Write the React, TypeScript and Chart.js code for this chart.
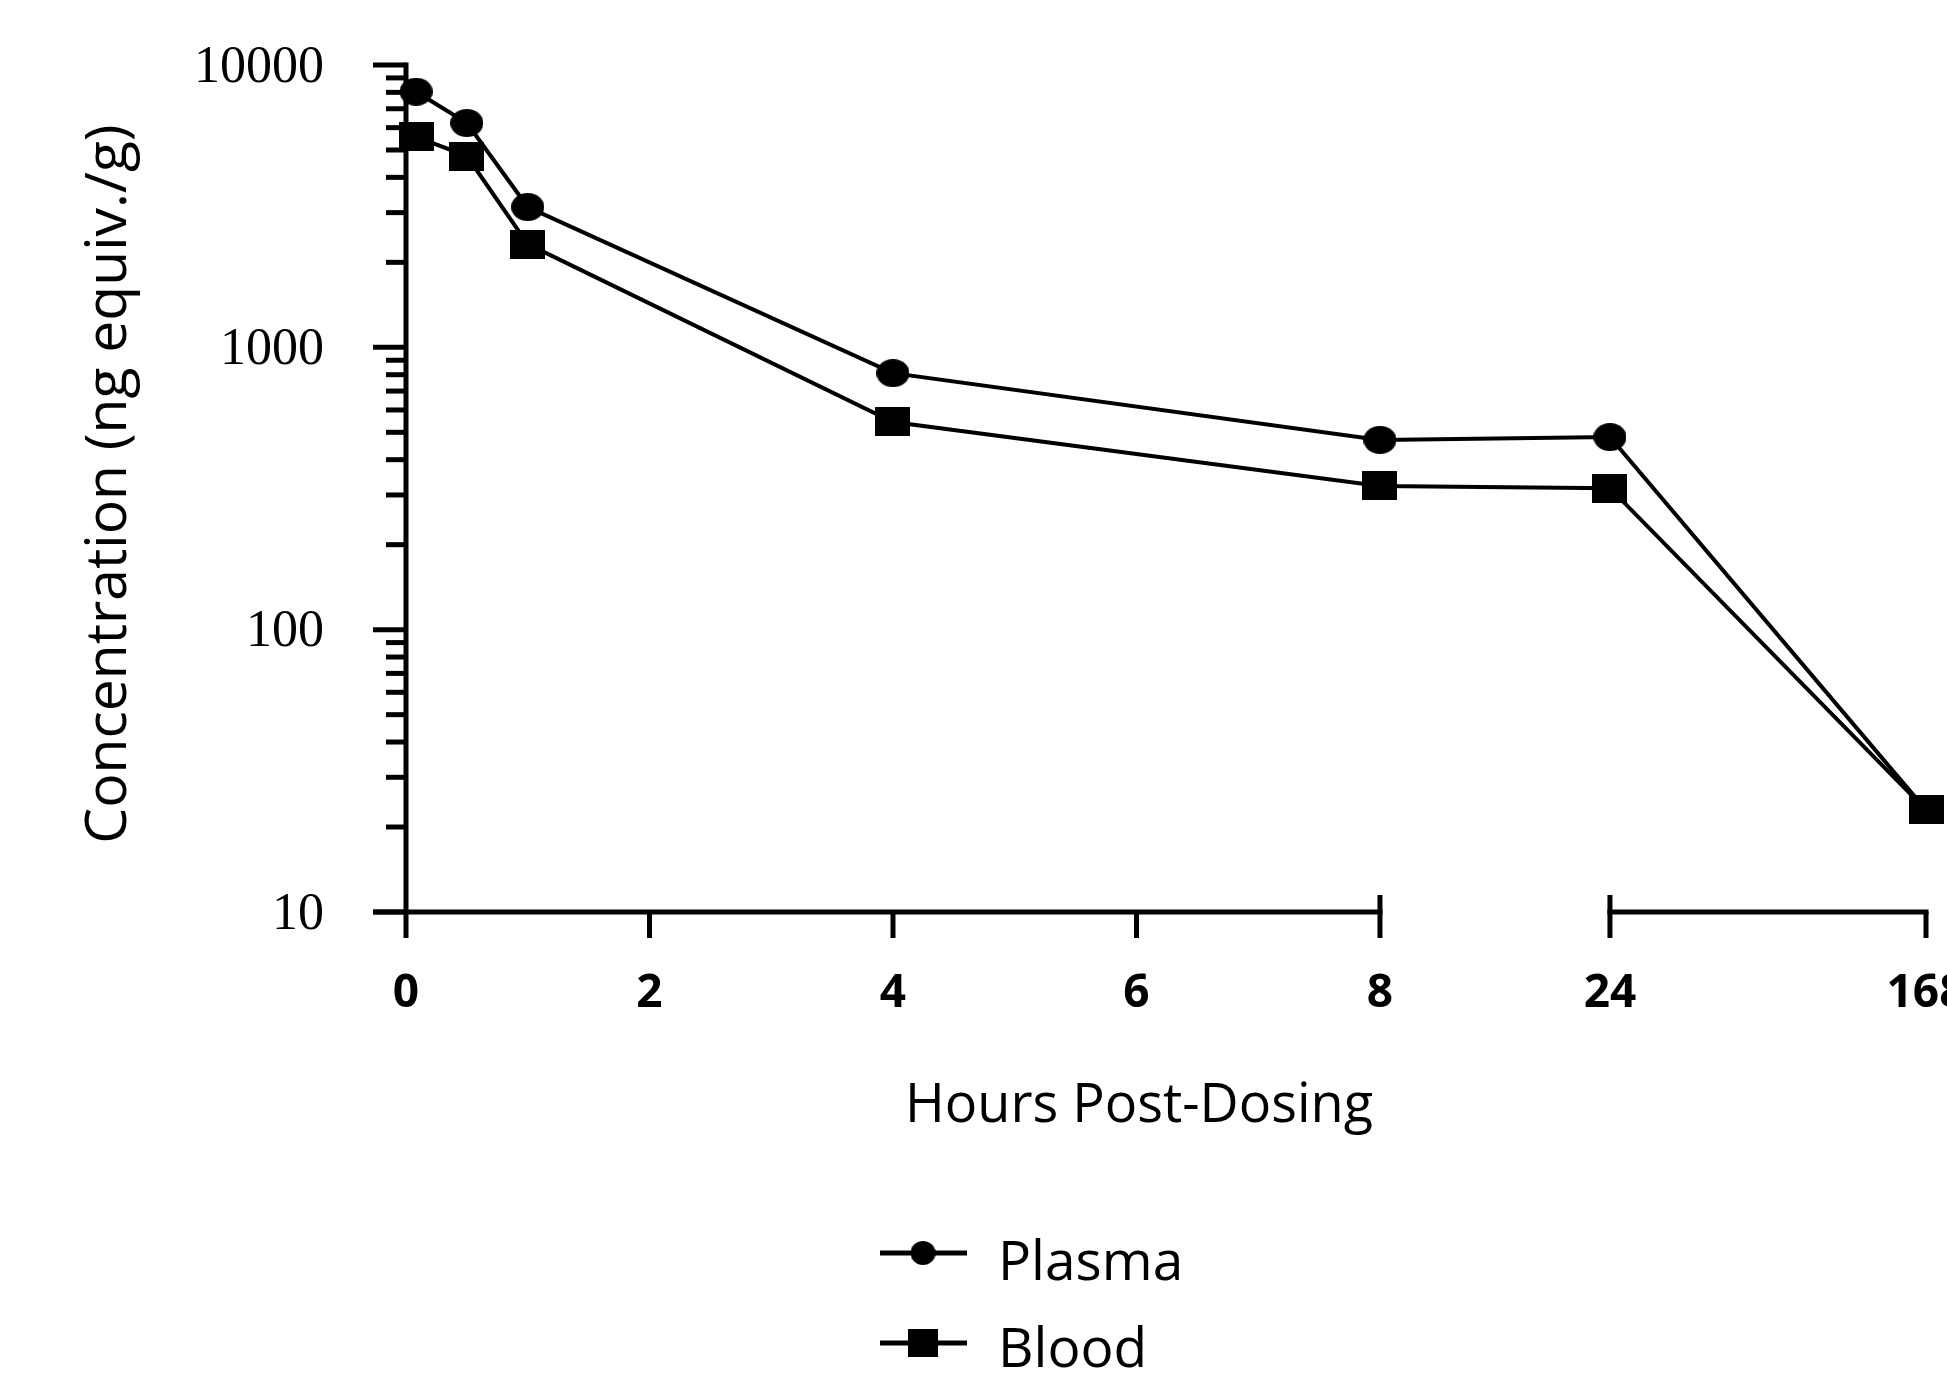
import React, { useEffect, useRef } from "react";
import { Chart, registerables } from "chart.js";

Chart.register(...registerables);

// ---- data ----
const hours = [0.083, 0.5, 1, 4, 8, 24, 168];
const plasma = [8040, 6230, 3140, 810, 470, 481, 23];
const blood = [5560, 4760, 2320, 544, 323, 317, 23];
const seriesNames = ["Plasma", "Blood"];
const xTickValues = [0, 2, 4, 6, 8, 24, 168];
const yMajorTicks = [10, 100, 1000, 10000];
const xTitle = "Hours Post-Dosing";
const yTitle = "Concentration (ng equiv./g)";

// ---- broken x axis: 0–8 h linear, then a gap, then 24–168 h compressed ----
const EARLY_END = 8;
const LATE_START = 24;
const LATE_END = 168;
const LATE_START_POS = 9.889; // axis units
const LATE_END_POS = 12.485; // axis units
function axisPos(h: number): number {
  if (h <= EARLY_END) return h;
  return LATE_START_POS + ((h - LATE_START) * (LATE_END_POS - LATE_START_POS)) / (LATE_END - LATE_START);
}

function makeMarker(shape: "ellipse" | "rect", w: number, h: number) {
  const c = document.createElement("canvas");
  c.width = w;
  c.height = h;
  const g = c.getContext("2d")!;
  g.fillStyle = "#000";
  if (shape === "ellipse") {
    g.beginPath();
    g.ellipse(w / 2, h / 2, w / 2, h / 2, 0, 0, Math.PI * 2);
    g.fill();
  } else {
    g.fillRect(0, 0, w, h);
  }
  return c;
}

export default function App() {
  const ref = useRef<HTMLCanvasElement | null>(null);

  useEffect(() => {
    if (!ref.current) return;
    const circle = makeMarker("ellipse", 33, 28);
    const square = makeMarker("rect", 35, 29);
    const legCircle = makeMarker("ellipse", 25, 24);
    const legSquare = makeMarker("rect", 30, 28);

    const axesPlugin = {
      id: "brokenAxes",
      beforeDatasetsDraw(chart: any) {
        const ctx = chart.ctx as CanvasRenderingContext2D;
        const xs = chart.scales.x;
        const ys = chart.scales.y;
        const x0 = xs.getPixelForValue(0);
        const yBottom = ys.getPixelForValue(10);
        const yTop = ys.getPixelForValue(10000);
        const MAJ = 33;
        const MIN = 20;
        const XT = 26;
        const BRK = 17;
        ctx.save();
        ctx.strokeStyle = "#000";
        ctx.fillStyle = "#000";
        ctx.lineWidth = 5;
        ctx.lineCap = "butt";

        // y axis line (extends below x axis as the 0 tick)
        ctx.beginPath();
        ctx.moveTo(x0, yTop - 2.5);
        ctx.lineTo(x0, yBottom + XT);
        ctx.stroke();

        // y ticks
        for (let e = 1; e <= 3; e++) {
          for (let m = 1; m <= 9; m++) {
            const v = m * Math.pow(10, e);
            const py = ys.getPixelForValue(v);
            ctx.beginPath();
            ctx.moveTo(x0 - (m === 1 ? MAJ : MIN), py);
            ctx.lineTo(x0, py);
            ctx.stroke();
          }
        }
        const pTop = ys.getPixelForValue(10000);
        ctx.beginPath();
        ctx.moveTo(x0 - MAJ, pTop);
        ctx.lineTo(x0, pTop);
        ctx.stroke();

        // x axis segments
        const p8 = xs.getPixelForValue(axisPos(EARLY_END));
        const p24 = xs.getPixelForValue(axisPos(LATE_START));
        const p168 = xs.getPixelForValue(axisPos(LATE_END));
        ctx.beginPath();
        ctx.moveTo(x0 - MAJ, yBottom);
        ctx.lineTo(p8 + 2.5, yBottom);
        ctx.moveTo(p24 - 2.5, yBottom);
        ctx.lineTo(p168 + 2.5, yBottom);
        ctx.stroke();

        // x ticks
        for (const t of xTickValues) {
          if (t === 0) continue;
          const px = xs.getPixelForValue(axisPos(t));
          const up = t === EARLY_END || t === LATE_START ? BRK : 0;
          ctx.beginPath();
          ctx.moveTo(px, yBottom - up);
          ctx.lineTo(px, yBottom + XT);
          ctx.stroke();
        }

        // y tick labels
        ctx.font = "52px 'Liberation Serif', 'Times New Roman', serif";
        ctx.textAlign = "right";
        ctx.textBaseline = "middle";
        for (const v of yMajorTicks) {
          ctx.fillText(String(v), x0 - 82, ys.getPixelForValue(v) + 3);
        }

        // x tick labels
        ctx.font = "bold 46px 'Open Sans', sans-serif";
        ctx.textAlign = "center";
        ctx.textBaseline = "alphabetic";
        for (const t of xTickValues) {
          ctx.fillText(String(t), xs.getPixelForValue(axisPos(t)), yBottom + 95);
        }

        // axis titles
        ctx.font = "54px 'Open Sans', sans-serif";
        ctx.fillText(xTitle, 1139, 1122);
        ctx.save();
        ctx.translate(126, 484);
        ctx.rotate(-Math.PI / 2);
        ctx.font = "57px 'Open Sans', sans-serif";
        ctx.textAlign = "center";
        ctx.fillText(yTitle, 0, 0);
        ctx.restore();

        // legend
        const rows = [
          { y: 1253, base: 1280, marker: legCircle },
          { y: 1343, base: 1367, marker: legSquare },
        ];
        ctx.font = "55px 'Open Sans', sans-serif";
        ctx.textAlign = "left";
        ctx.lineWidth = 5;
        rows.forEach((r, i) => {
          ctx.beginPath();
          ctx.moveTo(880, r.y);
          ctx.lineTo(967, r.y);
          ctx.stroke();
          ctx.drawImage(r.marker, 923 - r.marker.width / 2, r.y - r.marker.height / 2);
          ctx.fillText(seriesNames[i], 998, r.base);
        });
        ctx.restore();
      },
    };

    const chart = new Chart(ref.current, {
      type: "line",
      data: {
        datasets: [
          {
            label: seriesNames[1],
            data: hours.map((h, i) => ({ x: axisPos(h), y: blood[i] })),
            borderColor: "#000",
            backgroundColor: "#000",
            borderWidth: 4,
            pointStyle: square as any,
            pointRadius: 15,
            clip: false as any,
            order: 0,
          },
          {
            label: seriesNames[0],
            data: hours.map((h, i) => ({ x: axisPos(h), y: plasma[i] })),
            borderColor: "#000",
            backgroundColor: "#000",
            borderWidth: 4,
            pointStyle: circle as any,
            pointRadius: 15,
            clip: false as any,
            order: 1,
          },
        ],
      },
      options: {
        animation: false,
        responsive: true,
        maintainAspectRatio: false,
        events: [],
        layout: { padding: { left: 406, right: 21, top: 65, bottom: 466 } },
        plugins: { legend: { display: false }, tooltip: { enabled: false } },
        scales: {
          x: { type: "linear", min: 0, max: LATE_END_POS, display: false },
          y: { type: "logarithmic", min: 10, max: 10000, display: false },
        },
      },
      plugins: [axesPlugin],
    });
    return () => chart.destroy();
  }, []);

  return (
    <div style={{ position: "fixed", left: 0, top: 0, width: 1947, height: 1378, background: "#fff" }}>
      <canvas ref={ref} />
    </div>
  );
}
